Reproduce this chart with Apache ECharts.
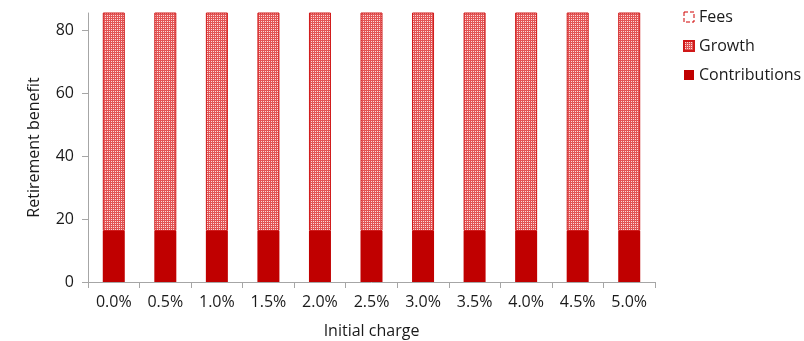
<!DOCTYPE html>
<html>
<head>
<meta charset="utf-8">
<script src="https://cdn.jsdelivr.net/npm/echarts@6/dist/echarts.min.js"></script>
<style>
  html, body { margin: 0; padding: 0; background: #fff; }
  #chart { width: 804px; height: 341px; }
</style>
</head>
<body>
<div id="chart"></div>
<script>
// Initial charge levels
const categories = ['0.0%', '0.5%', '1.0%', '1.5%', '2.0%', '2.5%', '3.0%', '3.5%', '4.0%', '4.5%', '5.0%'];
// Benefit components (stacked)
const contributions = [16.2, 16.2, 16.2, 16.2, 16.2, 16.2, 16.2, 16.2, 16.2, 16.2, 16.2];
const growth = [75, 75, 75, 75, 75, 75, 75, 75, 75, 75, 75];
const fees = [5, 5, 5, 5, 5, 5, 5, 5, 5, 5, 5];
// Y axis ticks
const yTicks = [0, 20, 40, 60, 80];

// Dotted fill used for the growth segment
function makeDotPattern() {
  const c = document.createElement('canvas');
  c.width = 2; c.height = 2;
  const ctx = c.getContext('2d');
  ctx.fillStyle = '#e25454';
  ctx.fillRect(0, 0, 2, 2);
  ctx.fillStyle = '#fbd9d9';
  ctx.fillRect(1, 1, 1, 1);
  return c;
}
const growthFill = { image: makeDotPattern(), repeat: 'repeat' };

const font = '"Open Sans", "Noto Sans", sans-serif';
const textColor = '#1a1a1a';
const chart = echarts.init(document.getElementById('chart'), null, { renderer: 'canvas' });

chart.setOption({
  animation: false,
  textStyle: { fontFamily: font },
  grid: { left: 88, right: 149, top: 13, bottom: 59, outerBoundsMode: 'none' },
  legend: {
    orient: 'vertical',
    left: 683,
    top: 9,
    padding: 0,
    itemWidth: 10,
    itemHeight: 10,
    itemGap: 13,
    icon: 'rect',
    data: [
      { name: 'Fees', itemStyle: { color: '#ffffff', borderColor: '#d00000', borderWidth: 1, borderType: 'dashed' } },
      'Growth',
      'Contributions'
    ],
    textStyle: { fontFamily: font, fontSize: 16, color: textColor }
  },
  xAxis: {
    type: 'category',
    data: categories,
    name: 'Initial charge',
    nameLocation: 'middle',
    nameGap: 41,
    nameTextStyle: { fontFamily: font, fontSize: 16, color: textColor },
    axisLine: { lineStyle: { color: '#a6a6a6', width: 1 } },
    axisTick: { show: true, length: 6, lineStyle: { color: '#a6a6a6' } },
    axisLabel: { fontFamily: font, fontSize: 16, color: textColor, margin: 12 }
  },
  yAxis: {
    type: 'value',
    min: 0,
    max: 85.4,
    interval: 20,
    name: 'Retirement benefit',
    nameLocation: 'middle',
    nameGap: 46,
    nameTextStyle: { fontFamily: font, fontSize: 16, color: textColor },
    axisLine: { show: true, lineStyle: { color: '#a6a6a6', width: 1 } },
    axisTick: { show: true, length: 6, lineStyle: { color: '#a6a6a6' }, customValues: yTicks },
    axisLabel: { fontFamily: font, fontSize: 16, color: textColor, margin: 14, customValues: yTicks },
    splitLine: { show: false }
  },
  series: [
    {
      name: 'Contributions',
      type: 'bar',
      stack: 'total',
      barWidth: 22,
      data: contributions,
      itemStyle: { color: '#c00000', borderWidth: 0 }
    },
    {
      name: 'Growth',
      type: 'bar',
      stack: 'total',
      barWidth: 22,
      data: growth,
      itemStyle: { color: growthFill, borderColor: '#d01818', borderWidth: 1 }
    },
    {
      name: 'Fees',
      type: 'bar',
      stack: 'total',
      barWidth: 22,
      data: fees,
      itemStyle: { color: '#ffffff', borderColor: '#d00000', borderWidth: 1, borderType: 'dashed' }
    }
  ]
});
</script>
</body>
</html>
